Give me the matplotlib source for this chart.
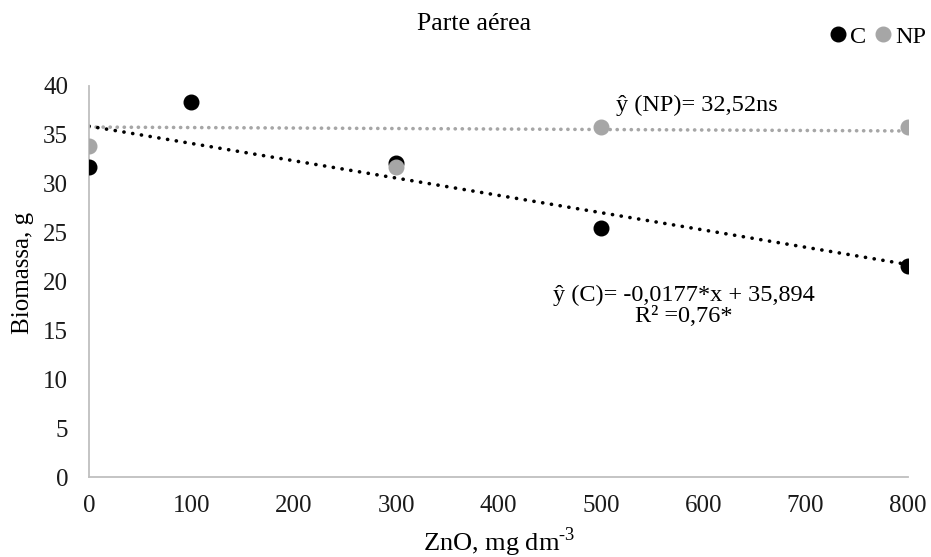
import numpy as np
import matplotlib
matplotlib.use('Agg')
from matplotlib import pyplot as plt

plt.rcParams['font.family'] = ['Liberation Serif', 'DejaVu Serif']
plt.rcParams['mathtext.fontset'] = 'custom'
plt.rcParams['mathtext.rm'] = 'Liberation Serif'

# data
dose_c = [0, 100, 300, 500, 800]
biomass_c = [31.7, 38.4, 32.1, 25.5, 21.6]
dose_np = [0, 300, 500, 800]
biomass_np = [33.9, 31.7, 35.8, 35.8]

# trend lines (slope, intercept)
trend_c = (-0.0177, 35.894)
trend_np = (-0.0005, 35.8)
trend_x = [0, 800]

black = '#000000'
grey = '#A6A6A6'
W, H = 931, 557

fig = plt.figure(figsize=(W / 100, H / 100), dpi=100)
ax = fig.add_axes([89 / W, 1 - 477 / H, 819 / W, 391 / H])

tx = np.array(trend_x)
ax.plot(tx, trend_np[0] * tx + trend_np[1], color=grey, linewidth=2.6,
        linestyle=(0, (0.05, 1.9)), dash_capstyle='round', zorder=2)
ax.plot(tx, trend_c[0] * tx + trend_c[1], color=black, linewidth=2.6,
        linestyle=(0, (0.05, 2.4)), dash_capstyle='round', zorder=2)

ax.plot(dose_c, biomass_c, 'o', color=black, markersize=10.5, label='C', zorder=3)
ax.plot(dose_np, biomass_np, 'o', color=grey, markersize=10.5, label='NP', zorder=3)

ax.set_xlim(0, 800)
ax.set_ylim(0, 40)
ax.set_xticks(range(0, 801, 100))
ax.set_yticks(range(0, 41, 5))
ax.tick_params(length=0, labelsize=18, colors='#1a1a1a')
ax.tick_params(axis='x', pad=13)
ax.tick_params(axis='y', pad=15)
for s in ['top', 'right']:
    ax.spines[s].set_visible(False)
for s in ['left', 'bottom']:
    ax.spines[s].set_color('#BFBFBF')
    ax.spines[s].set_linewidth(1.3)

fig.text(499 / W, 1 - 542 / H, r'ZnO, mg dm$^{\text{-3}}$', ha='center',
         va='center', fontsize=19)
fig.text(23 / W, 1 - 273 / H, 'Biomassa, g', ha='center', va='center',
         rotation=90, fontsize=18)
fig.text(474 / W, 1 - 24 / H, 'Parte aérea', ha='center', va='center',
         fontsize=18.5)

ax.text(594, 38.0, 'ŷ (NP)= 32,52ns', ha='center', va='center', fontsize=17.5)
ax.text(581, 17.5, 'ŷ (C)= -0,0177*x + 35,894\nR² =0,76*', ha='center',
        va='center', fontsize=17.5, linespacing=1.0)

fig.legend(loc='upper right', bbox_to_anchor=(936 / W, 1 - 16 / H), ncol=2,
           frameon=False, fontsize=17.5, handletextpad=-0.1, columnspacing=0.1,
           markerscale=1.0, borderaxespad=0.0, handlelength=1.2)

fig.savefig('out.png', dpi=100)
